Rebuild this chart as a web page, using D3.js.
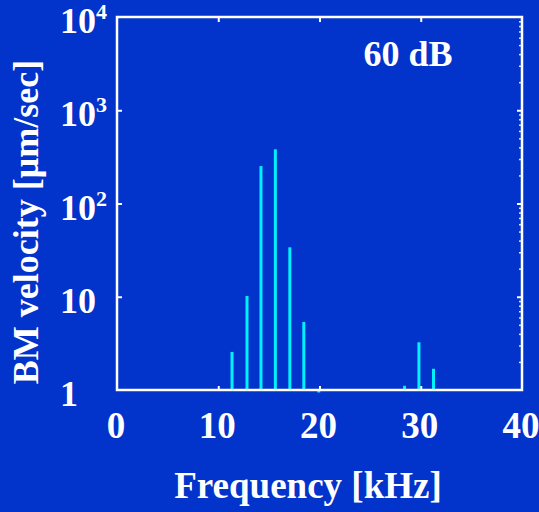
<!DOCTYPE html>
<html>
<head>
<meta charset="utf-8">
<script src="https://cdn.jsdelivr.net/npm/d3@7/dist/d3.min.js"></script>
<style>
  html, body { margin: 0; padding: 0; background: #0233cb; }
  svg { display: block; }
  text { font-family: "Liberation Serif", "Times New Roman", serif; font-weight: bold; fill: #fff; }
</style>
</head>
<body>
<script>
// Spectral components of basilar-membrane velocity (kHz, µm/sec)
const frequencies = [11.36, 12.84, 14.22, 15.64, 17.07, 18.45, 19.93, 28.4, 29.82, 31.26];
const velocities  = [2.56, 10.2, 252, 381, 33.9, 5.36, 0.94, 1.11, 3.25, 1.69];

const xTicks = [0, 10, 20, 30, 40];
const yTicks = [1, 10, 100, 1000, 10000];
const yTickLabels = [["1", ""], ["10", ""], ["10", "2"], ["10", "3"], ["10", "4"]];
const levelLabel = "60 dB";

const W = 539, H = 512;
const m = { left: 117, right: 17, top: 17, bottom: 122 };

const svg = d3.select("body").append("svg").attr("width", W).attr("height", H);

const x = d3.scaleLinear().domain([0, 40]).range([m.left, W - m.right]);
const y = d3.scaleLog().domain([1, 10000]).range([H - m.bottom, m.top]);

// stems, starting from the bottom of the axis
svg.append("g").selectAll("line").data(frequencies).join("line")
  .attr("x1", d => x(d)).attr("x2", d => x(d))
  .attr("y1", y(1))
  .attr("y2", (d, i) => y(velocities[i]))
  .attr("stroke", "#00f2ff").attr("stroke-width", 3);

// inward ticks on all four sides
const tickStyle = g => {
  g.select(".domain").remove();
  g.selectAll(".tick line").attr("stroke", "#fff").attr("stroke-width", 2);
};
svg.append("g").attr("transform", `translate(0,${y(1)})`)
  .call(d3.axisBottom(x).tickValues([10, 20, 30]).tickSize(-4).tickFormat(""))
  .call(tickStyle);
svg.append("g").attr("transform", `translate(0,${y(10000)})`)
  .call(d3.axisTop(x).tickValues([10, 20, 30]).tickSize(-5).tickFormat(""))
  .call(tickStyle);
svg.append("g").attr("transform", `translate(${x(0)},0)`)
  .call(d3.axisLeft(y).tickValues(yTicks.slice(1, 4)).tickSize(-5).tickFormat(""))
  .call(tickStyle);
const minor = [];
for (let e = 0; e < 4; e++) for (let k = 2; k <= 9; k++) minor.push(k * Math.pow(10, e));
svg.append("g").attr("transform", `translate(${x(40)},0)`)
  .call(d3.axisRight(y).tickValues(minor).tickSize(-3).tickFormat(""))
  .call(tickStyle)
  .selectAll(".tick line").attr("stroke-width", 1.5).attr("opacity", 0.85);
svg.append("g").attr("transform", `translate(${x(40)},0)`)
  .call(d3.axisRight(y).tickValues(yTicks.slice(1, 4)).tickSize(-5).tickFormat(""))
  .call(tickStyle);

// frame
svg.append("rect")
  .attr("x", x(0)).attr("y", y(10000))
  .attr("width", x(40) - x(0)).attr("height", y(1) - y(10000))
  .attr("fill", "none").attr("stroke", "#fff").attr("stroke-width", 2.5);

// x tick labels
svg.append("g").selectAll("text").data(xTicks).join("text")
  .attr("x", d => x(d) - 1).attr("y", 438)
  .attr("text-anchor", "middle").attr("font-size", 37)
  .text(d => d);

// y tick labels with superscript exponents
const yl = svg.append("g").selectAll("text").data(yTicks).join("text")
  .attr("x", 60).attr("y", d => y(d) + 16)
  .attr("font-size", 36);
yl.append("tspan").text((d, i) => yTickLabels[i][0]);
yl.append("tspan").attr("font-size", 22).attr("dy", -14)
  .text((d, i) => yTickLabels[i][1]);

// axis titles
svg.append("text").attr("x", 308).attr("y", 498)
  .attr("text-anchor", "middle").attr("font-size", 37)
  .text("Frequency [kHz]");
svg.append("text")
  .attr("transform", "translate(38,222) rotate(-90)")
  .attr("text-anchor", "middle").attr("font-size", 36)
  .text("BM velocity [μm/sec]");

// stimulus level
svg.append("text").attr("x", 408).attr("y", 66)
  .attr("text-anchor", "middle").attr("font-size", 36)
  .text(levelLabel);
</script>
</body>
</html>
